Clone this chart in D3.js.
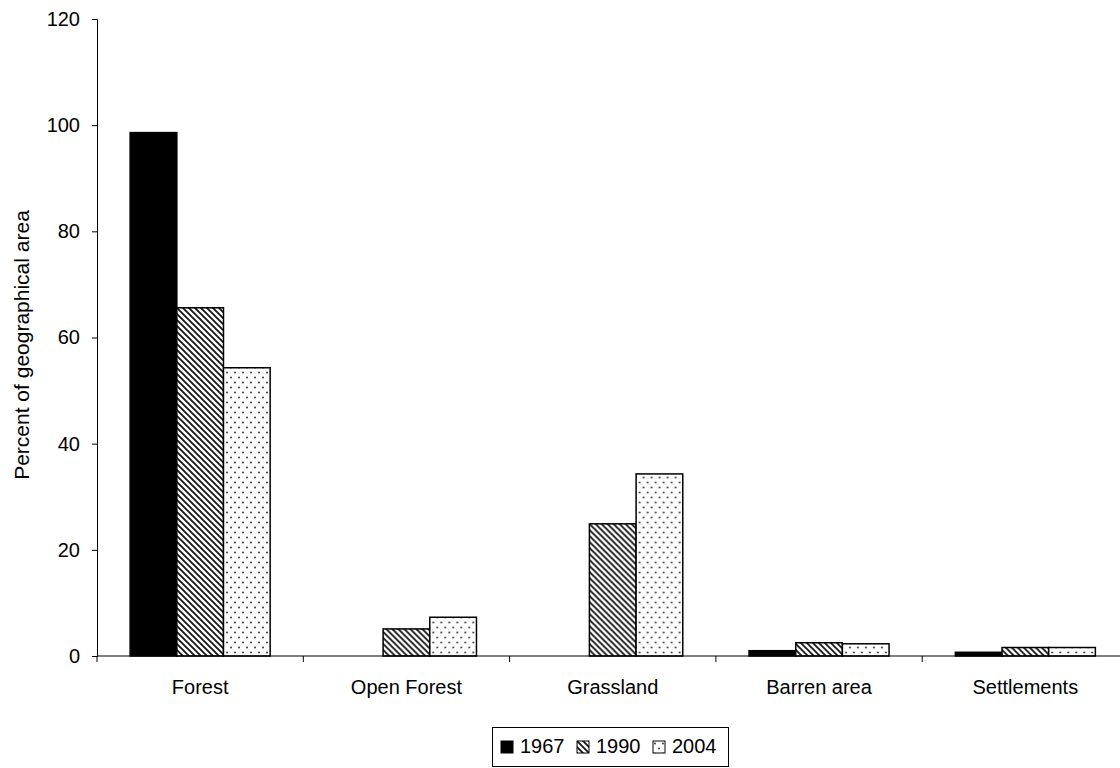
<!DOCTYPE html>
<html>
<head>
<meta charset="utf-8">
<script src="https://cdn.jsdelivr.net/npm/d3@7"></script>
<style>
  html, body { margin: 0; padding: 0; background: #fff; }
  svg { display: block; }
  text { font-family: "Liberation Sans", Arial, sans-serif; fill: #000; }
</style>
</head>
<body>
<svg id="chart" width="1120" height="768"></svg>
<script>
// Land-use categories and share of geographical area (%) per survey year
const categories = ["Forest", "Open Forest", "Grassland", "Barren area", "Settlements"];
const years = ["1967", "1990", "2004"];
const values1967 = [98.6, 0, 0, 1.0, 0.7];
const values1990 = [65.6, 5.1, 24.9, 2.5, 1.6];
const values2004 = [54.3, 7.3, 34.3, 2.3, 1.6];
const yTicks = [0, 20, 40, 60, 80, 100, 120];
const yLabel = "Percent of geographical area";

const seriesValues = [values1967, values1990, values2004];

const svg = d3.select("#chart");
const defs = svg.append("defs");

// Wide downward diagonal hatch
const hatch = defs.append("pattern")
  .attr("id", "hatch").attr("patternUnits", "userSpaceOnUse")
  .attr("width", 6).attr("height", 6);
hatch.append("rect").attr("width", 6).attr("height", 6).attr("fill", "#fff");
hatch.append("path")
  .attr("d", "M-1,-1 L7,7 M-1,5 L1,7 M5,-1 L7,1")
  .attr("stroke", "#1a1a1a").attr("stroke-width", 1.9);

// Sparse staggered dots
const dots = defs.append("pattern")
  .attr("id", "dots").attr("patternUnits", "userSpaceOnUse")
  .attr("width", 8).attr("height", 10);
dots.append("rect").attr("width", 8).attr("height", 10).attr("fill", "#fff");
dots.append("circle").attr("cx", 2).attr("cy", 2.5).attr("r", 0.95).attr("fill", "#333");
dots.append("circle").attr("cx", 6).attr("cy", 7.5).attr("r", 0.95).attr("fill", "#333");

const fills = ["#000", "url(#hatch)", "url(#dots)"];

const plot = { left: 97, top: 19, bottom: 656, bandWidth: 206.3 };

const x0 = d3.scaleBand()
  .domain(categories)
  .range([plot.left, plot.left + plot.bandWidth * categories.length])
  .paddingInner(0).paddingOuter(0);

const x1 = d3.scaleBand()
  .domain(years)
  .range([0, x0.bandwidth()])
  .paddingOuter(0.71).paddingInner(0);

const y = d3.scaleLinear().domain([0, 120]).range([plot.bottom, plot.top]);

// Bars
const groups = svg.append("g").selectAll("g")
  .data(categories)
  .join("g")
  .attr("transform", d => `translate(${x0(d)},0)`);

groups.selectAll("rect")
  .data((c, ci) => years.map((yr, si) => ({ yr, si, v: seriesValues[si][ci] })))
  .join("rect")
  .filter(d => d.v > 0)
  .attr("x", d => x1(d.yr))
  .attr("y", d => y(d.v))
  .attr("width", x1.bandwidth())
  .attr("height", d => y(0) - y(d.v))
  .attr("fill", d => fills[d.si])
  .attr("stroke", "#000")
  .attr("stroke-width", 1.5);

// Y axis
const yAxis = svg.append("g")
  .attr("transform", `translate(${plot.left},0)`)
  .call(d3.axisLeft(y).tickValues(yTicks).tickSize(5).tickPadding(12).tickSizeOuter(5));
yAxis.select(".domain").attr("stroke", "#000");
yAxis.selectAll(".tick line").attr("stroke", "#000");
yAxis.selectAll("text").style("font-size", "20px").style("font-family", '"Liberation Sans", Arial, sans-serif');

// X axis (category boundaries ticked)
const xAxisG = svg.append("g").attr("transform", `translate(0,${plot.bottom})`);
xAxisG.append("line")
  .attr("x1", plot.left).attr("x2", x0.range()[1])
  .attr("stroke", "#000");
const boundaries = categories.map(c => x0(c)).concat([x0.range()[1]]);
xAxisG.selectAll("line.bt")
  .data(boundaries)
  .join("line").attr("class", "bt")
  .attr("x1", d => d).attr("x2", d => d)
  .attr("y1", 0).attr("y2", 6)
  .attr("stroke", "#000");
xAxisG.selectAll("text")
  .data(categories)
  .join("text")
  .attr("x", d => x0(d) + x0.bandwidth() / 2)
  .attr("y", 38)
  .attr("text-anchor", "middle")
  .style("font-size", "20px")
  .text(d => d);

// Y axis title
svg.append("text")
  .attr("transform", "translate(29,345) rotate(-90)")
  .attr("text-anchor", "middle")
  .style("font-size", "21px")
  .text(yLabel);

// Legend
const legend = svg.append("g");
legend.append("rect")
  .attr("x", 492.5).attr("y", 727.5)
  .attr("width", 236).attr("height", 39)
  .attr("fill", "#fff").attr("stroke", "#000");

const legendX = [501, 577, 653];
const item = legend.selectAll("g.item")
  .data(years)
  .join("g").attr("class", "item")
  .attr("transform", (d, i) => `translate(${legendX[i]},741)`);
item.append("rect")
  .attr("width", 12).attr("height", 12)
  .attr("fill", (d, i) => fills[i])
  .attr("stroke", "#000").attr("stroke-width", 1);
item.append("text")
  .attr("x", 19).attr("y", 11.5)
  .style("font-size", "20px")
  .text(d => d);
</script>
</body>
</html>
